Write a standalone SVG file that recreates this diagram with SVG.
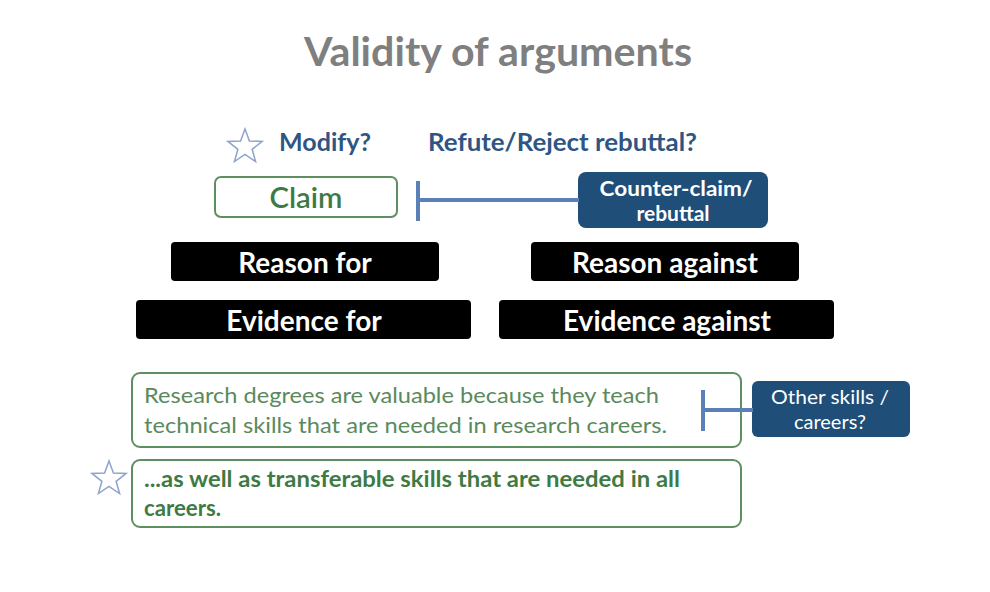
<svg xmlns="http://www.w3.org/2000/svg" xmlns:xlink="http://www.w3.org/1999/xlink" width="990" height="592" viewBox="0 0 990 592">
<style>
.title{font-family:Lato,"Liberation Sans",sans-serif;font-weight:bold;font-size:41px;fill:#7f7f7f}
.q{font-family:Lato,"Liberation Sans",sans-serif;font-weight:bold;font-size:25px;fill:#2e5583}
.blk{fill:#000}
.bt{font-family:Lato,"Liberation Sans",sans-serif;font-weight:bold;font-size:28px;fill:#fff;text-anchor:middle}
.navy{fill:#1f4e79}
.nt{font-family:Lato,"Liberation Sans",sans-serif;font-weight:bold;font-size:21px;fill:#fff;text-anchor:middle}
.nr{font-family:Lato,"Liberation Sans",sans-serif;font-weight:normal;font-size:20px;fill:#fff;text-anchor:middle}
.gbox{fill:#fff;stroke:#5e8f60;stroke-width:2}
.gt{font-family:Lato,"Liberation Sans",sans-serif;font-size:22px;fill:#5a8a5c}
.gtb{font-family:Lato,"Liberation Sans",sans-serif;font-weight:bold;font-size:22px;fill:#3f7a45}
.conn{stroke:#5b80b8;stroke-width:4;fill:none}
.star{fill:#fff;stroke:#8ea3cc;stroke-width:1.5}
</style>
<defs>
<path id="star" d="M0,-18 L4.41,-6.07 L17.12,-5.56 L7.13,2.32 L10.58,14.56 L0,7.5 L-10.58,14.56 L-7.13,2.32 L-17.12,-5.56 L-4.41,-6.07 Z"/>
</defs>
<rect width="990" height="592" fill="#fff"/>
<text class="title" x="498" y="66" text-anchor="middle" textLength="388" lengthAdjust="spacingAndGlyphs">Validity of arguments</text>
<g id="labels">
<use xlink:href="#star" class="star" x="245" y="147"/>
<text class="q" x="279" y="151" textLength="92" lengthAdjust="spacingAndGlyphs">Modify?</text>
<text class="q" x="428" y="151" textLength="269" lengthAdjust="spacingAndGlyphs">Refute/Reject rebuttal?</text>
</g>
<g id="claim">
<rect class="gbox" x="215" y="177" width="182" height="40" rx="6"/>
<text x="306" y="208" text-anchor="middle" font-family="Lato,'Liberation Sans',sans-serif" font-size="28" font-weight="600" fill="#3f7a45" textLength="73" lengthAdjust="spacingAndGlyphs">Claim</text>
</g>
<g id="counter-claim">
<rect class="navy" x="578" y="172" width="190" height="56" rx="8"/>
<text class="nt" x="676" y="196" textLength="153" lengthAdjust="spacingAndGlyphs">Counter-claim/</text>
<text class="nt" x="673" y="221">rebuttal</text>
</g>
<g id="reason-for">
<rect class="blk" x="171" y="242" width="268" height="39" rx="4"/>
<text class="bt" x="305" y="273">Reason for</text>
</g>
<g id="reason-against">
<rect class="blk" x="531" y="242" width="268" height="39" rx="4"/>
<text class="bt" x="665" y="273">Reason against</text>
</g>
<g id="evidence-for">
<rect class="blk" x="136" y="300" width="335" height="39" rx="4"/>
<text class="bt" x="304" y="331">Evidence for</text>
</g>
<g id="evidence-against">
<rect class="blk" x="499" y="300" width="335" height="39" rx="4"/>
<text class="bt" x="667" y="331">Evidence against</text>
</g>
<g id="research">
<rect class="gbox" x="132" y="373" width="609" height="74" rx="8"/>
<text class="gt" x="144" y="403" textLength="515" lengthAdjust="spacingAndGlyphs">Research degrees are valuable because they teach</text>
<text class="gt" x="144" y="433" textLength="523" lengthAdjust="spacingAndGlyphs">technical skills that are needed in research careers.</text>
</g>
<g id="other-skills">
<rect class="navy" x="752" y="381" width="158" height="56" rx="6"/>
<text class="nr" x="830" y="404" textLength="118" lengthAdjust="spacingAndGlyphs">Other skills /</text>
<text class="nr" x="830" y="429">careers?</text>
</g>
<g id="transferable">
<use xlink:href="#star" class="star" x="109" y="479"/>
<rect class="gbox" x="132" y="460" width="609" height="67" rx="8"/>
<text class="gtb" x="144" y="487" textLength="536" lengthAdjust="spacingAndGlyphs">...as well as transferable skills that are needed in all</text>
<text class="gtb" x="144" y="516" textLength="77" lengthAdjust="spacingAndGlyphs">careers.</text>
</g>
<g id="connectors">
<line class="conn" x1="418" y1="181" x2="418" y2="221"/>
<line class="conn" x1="418" y1="200" x2="579" y2="200"/>
<line class="conn" x1="703" y1="390" x2="703" y2="431" stroke-width="3"/>
<line class="conn" x1="703" y1="410" x2="753" y2="410" stroke-width="3"/>
</g>
</svg>
